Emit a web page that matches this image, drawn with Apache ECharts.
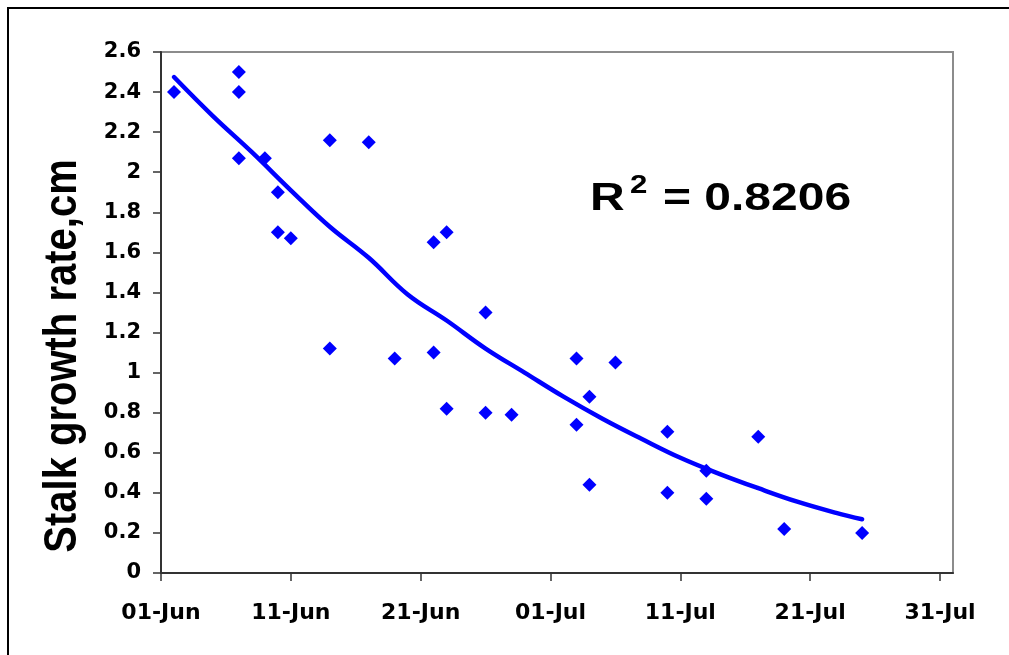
<!DOCTYPE html>
<html><head><meta charset="utf-8">
<script src="https://cdn.jsdelivr.net/npm/echarts@6/dist/echarts.min.js"></script>
<style>html,body{margin:0;padding:0;background:#fff}#c{width:1009px;height:655px}</style>
</head><body><div id="c"></div>
<script>
// Observations (month-day) and stalk growth rate (cm)
const obsDates  = ['06-02','06-07','06-07','06-07','06-09','06-10','06-10','06-11','06-14','06-14',
                   '06-17','06-19','06-22','06-22','06-23','06-23','06-26','06-26','06-28','07-03',
                   '07-03','07-04','07-04','07-06','07-10','07-10','07-13','07-13','07-17','07-19','07-25'];
const obsValues = [2.40, 2.50, 2.40, 2.07, 2.07, 1.90, 1.70, 1.67, 2.16, 1.12,
                   2.15, 1.07, 1.65, 1.10, 1.70, 0.82, 1.30, 0.80, 0.79, 1.07,
                   0.74, 0.88, 0.44, 1.05, 0.705, 0.40, 0.51, 0.37, 0.68, 0.22, 0.20];
// Trend line
const trendDates  = ['06-02','06-05','06-08','06-11','06-14','06-17','06-20','06-23','06-26','06-29',
                     '07-02','07-05','07-08','07-11','07-14','07-17','07-20','07-23','07-25'];
const trendValues = [2.475, 2.28, 2.10, 1.91, 1.728, 1.573, 1.39, 1.26, 1.12, 1.00,
                     0.88, 0.77, 0.67, 0.575, 0.495, 0.423, 0.356, 0.30, 0.268];
const xTickDates  = ['06-01','06-11','06-21','07-01','07-11','07-21','07-31'];
const xTickLabels = ['01-Jun','11-Jun','21-Jun','01-Jul','11-Jul','21-Jul','31-Jul'];
const xStart = '06-01', xEnd = '08-01';
const yMin = 0, yMax = 2.6, yStep = 0.2;
const yTitle = 'Stalk growth rate,cm';
const r2Label = 'R', r2Sup = '2', r2Value = '= 0.8206';

function dayIndex(md) {
  const [m, d] = md.split('-').map(Number);
  return Math.round((Date.UTC(2001, m - 1, d) - Date.UTC(2001, 5, 1)) / 86400000);
}
const tickDays = xTickDates.map(dayIndex);
const labelOf = {};
tickDays.forEach((d, i) => { labelOf[d] = xTickLabels[i]; });

const chart = echarts.init(document.getElementById('c'), null, {renderer: 'canvas'});
const labelFont = 'DejaVu Sans';
chart.setOption({
  backgroundColor: '#fff',
  animation: false,
  grid: {left: 161, top: 52, right: 56, bottom: 82, show: true, borderColor: '#8c8c8c', borderWidth: 2, backgroundColor: '#fff'},
  xAxis: {
    type: 'value', min: dayIndex(xStart), max: dayIndex(xEnd),
    splitLine: {show: false},
    axisLine: {show: true, onZero: false, lineStyle: {color: '#333', width: 2}},
    axisTick: {show: true, length: 8, customValues: tickDays, lineStyle: {color: '#333', width: 1.5}},
    axisLabel: {customValues: tickDays, formatter: v => labelOf[v] || '', margin: 29,
      fontFamily: labelFont, fontWeight: 'bold', fontSize: 22, color: '#000'}
  },
  yAxis: {
    type: 'value', min: yMin, max: yMax, interval: yStep,
    splitLine: {show: false},
    axisLine: {show: true, lineStyle: {color: '#333', width: 2}},
    axisTick: {show: true, length: 8, lineStyle: {color: '#333', width: 1.5}},
    axisLabel: {margin: 20, fontFamily: labelFont, fontWeight: 'bold', fontSize: 21, color: '#000'}
  },
  series: [
    {type: 'scatter', symbol: 'diamond', symbolSize: 14, itemStyle: {color: '#0000ff', opacity: 1},
     data: obsDates.map((d, i) => [dayIndex(d), obsValues[i]]), z: 2},
    {type: 'line', smooth: 0.4, showSymbol: false, symbol: 'none',
     lineStyle: {color: '#0000ff', width: 4.5, cap: 'round', join: 'round', opacity: 1},
     data: trendDates.map((d, i) => [dayIndex(d), trendValues[i]]), z: 3}
  ],
  graphic: [
    {type: 'rect', shape: {x: 8, y: 8, width: 1100, height: 1100}, style: {fill: 'none', stroke: '#000', lineWidth: 2}, z: 100},
    {type: 'text', x: 63.5, y: 356, rotation: Math.PI / 2, scaleY: 1.16,
     style: {text: yTitle, font: 'bold 40px "Liberation Sans"', fill: '#000', align: 'center', verticalAlign: 'middle', textAlign: 'center', textVerticalAlign: 'middle'}},
    {type: 'text', x: 590, y: 199, scaleX: 1.23,
     style: {text: r2Label, font: 'bold 39px "Liberation Sans"', fill: '#000', align: 'left', verticalAlign: 'middle', textAlign: 'left', textVerticalAlign: 'middle'}},
    {type: 'text', x: 630, y: 186, scaleX: 1.2,
     style: {text: r2Sup, font: 'bold 26px "Liberation Sans"', fill: '#000', align: 'left', verticalAlign: 'middle', textAlign: 'left', textVerticalAlign: 'middle'}},
    {type: 'text', x: 663, y: 199, scaleX: 1.23,
     style: {text: r2Value, font: 'bold 39px "Liberation Sans"', fill: '#000', align: 'left', verticalAlign: 'middle', textAlign: 'left', textVerticalAlign: 'middle'}}
  ]
});
</script></body></html>
